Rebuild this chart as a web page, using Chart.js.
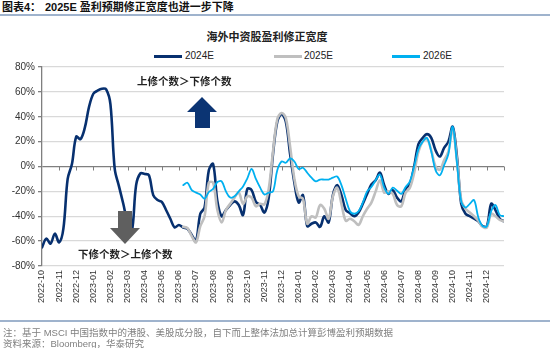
<!DOCTYPE html>
<html>
<head>
<meta charset="utf-8">
<script src="https://cdn.jsdelivr.net/npm/chart.js@4/dist/chart.umd.min.js"></script>
<style>
    body { margin: 0; width: 550px; height: 348px; position: relative; overflow: hidden; background: #fff;
           font-family: "Liberation Sans", Arial, sans-serif; }
    .abs { position: absolute; white-space: nowrap; }
    .cjk { font-family: "Liberation Sans", "Noto Sans CJK SC", sans-serif; }
    #chart { position: absolute; left: 0; top: 58px; }
</style>
</head>
<body>
<div class="abs cjk" style="left:2px;top:0;font-size:11px;font-weight:bold;line-height:15px;color:#111;">图表4：</div>
<div class="abs cjk" style="left:45px;top:0;font-size:11px;font-weight:bold;line-height:15px;color:#111;">2025E 盈利预期修正宽度也进一步下降</div>
<div class="abs" style="left:0;top:14px;width:550px;height:2px;background:#9fb3cd;"></div>

<div class="abs cjk" style="left:0;width:534px;top:29px;text-align:center;font-size:11px;font-weight:bold;line-height:16px;color:#222;">海外中资股盈利修正宽度</div>

<div class="abs" style="left:154px;top:55px;width:28px;height:3px;background:#07306f;"></div>
<div class="abs" style="left:185px;top:50px;font-size:10px;line-height:12px;color:#222;">2024E</div>
<div class="abs" style="left:274px;top:55px;width:28px;height:3px;background:#bfbfbf;"></div>
<div class="abs" style="left:304px;top:50px;font-size:10px;line-height:12px;color:#222;">2025E</div>
<div class="abs" style="left:392px;top:55px;width:28px;height:3px;background:#00b0f0;"></div>
<div class="abs" style="left:423px;top:50px;font-size:10px;line-height:12px;color:#222;">2026E</div>

<canvas id="chart" width="550" height="248"></canvas>

<svg class="abs" style="left:0;top:0;" width="550" height="348">
    <polygon points="202,97 217,112 210,112 210,128 195,128 195,112 187,112" fill="#0b3473"/>
    <polygon points="118,211 132,211 132,228 140,228 125,244 110,228 118,228" fill="#5f5f5f"/>
</svg>
<div class="abs cjk" style="left:137px;top:74px;font-size:10.5px;font-weight:bold;line-height:14px;color:#222;">上修个数＞下修个数</div>
<div class="abs cjk" style="left:78px;top:247px;font-size:10.5px;font-weight:bold;line-height:14px;color:#222;">下修个数＞上修个数</div>

<div class="abs" style="left:0;top:320px;width:550px;height:1.5px;background:#9fb3cd;"></div>
<div class="abs cjk" style="left:3px;top:327px;font-size:9.5px;line-height:12px;color:#7f7f7f;">注：基于 MSCI 中国指数中的港股、美股成分股，自下而上整体法加总计算彭博盈利预期数据</div>
<div class="abs cjk" style="left:3px;top:338px;font-size:9.5px;line-height:12px;color:#7f7f7f;">资料来源：Bloomberg，华泰研究</div>

<script>
// month tick labels (x value i = i-th month from 2022-10)
const monthLabels = [
    '2022-10', '2022-11', '2022-12', '2023-01', '2023-02', '2023-03', '2023-04', '2023-05', '2023-06',
    '2023-07', '2023-08', '2023-09', '2023-10', '2023-11', '2023-12', '2024-01', '2024-02', '2024-03',
    '2024-04', '2024-05', '2024-06', '2024-07', '2024-08', '2024-09', '2024-10', '2024-11', '2024-12',
];
// one observation every quarter month
const stepMonths = 0.25;
const forecastStart = 33; // 2025E / 2026E start later

// 2024E breadth (%)
const series2024E = [
    -65, -58, -62, -54, -61, -50, -10, 2, 24, 22,
    31, 48, 58.5, 61, 62.5, 62, 50, -2, -16, -30,
    -45, -52, -15, -5.5, -6, -7, -23, -27, -28.5, -35,
    -42, -49, -47, -49, -50, -55, -60, -38, -33, -3,
    2, -28, -40, -35, -31, -28, -31, -39, -18, -19,
    -28.5, -31, -37, -25, 10, 36, 42, 36, 10, -13,
    -29, -23, -48, -46, -45, -48.5, -40, -45, -23, -15,
    -23, -35, -37.5, -40, -37, -30, -22, -14.5, -11, -5,
    -15, -22, -19, -25, -28, -18, -14, 0, 18, 23,
    26, 23, 13, 8, 15, 20, 32, 8, -30, -38,
    -40, -42, -44, -48, -48, -30, -35, -42, -44,
];
// 2025E breadth (%)
const series2025E = [
    -48.5, -49.5, -56, -61, -48, -40, -13, -13, -35, -45,
    -35, -30, -25, -21, -30, -24, -25, -32, -30, -30.5,
    -18, 12, 38, 43, 39, 16, -10, -24, -26, -46,
    -40, -41, -31, -34, -42, -24, -17, -30, -43.6, -42,
    -44, -47, -40, -34, -29, -20, -11, -21, -20, -22,
    -31, -32, -21, -17, -5, 12, 20, 22, 13, 0,
    -2.6, 5, 12, 30, 5, -27, -34, -37, -40, -43.6,
    -48.5, -49, -38, -40, -43, -44,
];
// 2026E breadth (%)
const series2026E = [
    -15, -13, -19, -21, -22.5, -26, -20.5, -18, -12.5, -12,
    -20, -25, -24, -20, -16, -9.5, -2, -10, -17, -22.5,
    -21, -20, -3, 4, 3, 6.5, 4, -2, -1, -5,
    -9, -12, -10.5, -10.5, -10.5, -9, -8, -15, -26, -36,
    -38, -36, -29, -20, -16.5, -11, -6.5, -17, -22, -17,
    -19.5, -22, -16.5, -12, 0, 14, 20, 23, 12, -3,
    -7, 1, 10, 32, 3, -28, -33, -30, -27, -41,
    -48, -48, -36, -31, -39, -40,
];

const toPoints = (values, start) => values.map((v, i) => ({ x: (start + i) * stepMonths, y: v }));

// little tick marks hanging from the 0% line
const zeroTicks = {
    id: 'zeroTicks',
    beforeDatasetsDraw(chart) {
        const { ctx, scales: { x, y } } = chart;
        const y0 = y.getPixelForValue(0);
        ctx.save();
        ctx.strokeStyle = '#7f7f7f';
        ctx.lineWidth = 1;
        for (let i = 1; i <= monthLabels.length; i++) {
            const px = Math.round(x.getPixelForValue(i)) + 0.5;
            ctx.beginPath();
            ctx.moveTo(px, y0);
            ctx.lineTo(px, y0 + 4);
            ctx.stroke();
        }
        ctx.restore();
    },
};

Chart.defaults.font.family = '"Liberation Sans", Arial, sans-serif';

new Chart(document.querySelector('#chart'), {
    type: 'line',
    data: {
        datasets: [
            { label: '2024E', data: toPoints(series2024E, 0), borderColor: '#07306f', borderWidth: 2.6, order: 3 },
            { label: '2025E', data: toPoints(series2025E, forecastStart), borderColor: '#bfbfbf', borderWidth: 2.6, order: 2 },
            { label: '2026E', data: toPoints(series2026E, forecastStart), borderColor: '#00b0f0', borderWidth: 1.8, order: 1 },
        ],
    },
    options: {
        responsive: false,
        animation: false,
        layout: { padding: { top: 4, right: 46, left: 0, bottom: 0 } },
        elements: {
            point: { radius: 0 },
            line: { tension: 0.35, borderJoinStyle: 'round', borderCapStyle: 'round' },
        },
        plugins: { legend: { display: false }, tooltip: { enabled: false } },
        scales: {
            x: {
                type: 'linear',
                min: 0,
                max: 27,
                grid: { display: false, drawTicks: false },
                border: { display: false },
                afterBuildTicks: scale => {
                    scale.ticks = monthLabels.map((_, i) => ({ value: i }));
                },
                afterFit: scale => {
                    scale.height = 40;
                },
                ticks: {
                    autoSkip: false,
                    minRotation: 90,
                    maxRotation: 90,
                    padding: 4,
                    font: { size: 9 },
                    color: '#333',
                    callback: value => monthLabels[value],
                },
            },
            y: {
                min: -80,
                max: 80,
                afterFit: scale => {
                    scale.width = 42;
                },
                ticks: { stepSize: 20, padding: 3, font: { size: 10 }, color: '#333', callback: v => v + '%' },
                grid: {
                    color: c => (c.tick && c.tick.value === 0 ? '#7f7f7f' : '#d9d9d9'),
                    lineWidth: 1.3,
                    tickLength: 4,
                    tickColor: '#7f7f7f',
                },
                border: { color: '#7f7f7f', width: 1.3 },
            },
        },
    },
    plugins: [zeroTicks],
});
</script>
</body>
</html>
